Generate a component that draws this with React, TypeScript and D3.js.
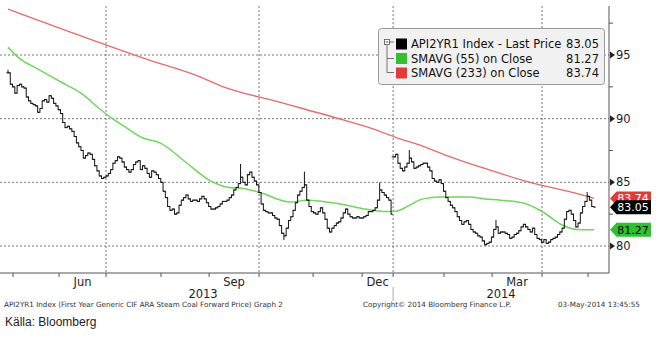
import React from 'react';
import * as d3 from 'd3';

// ---- data ----
const closes: number[] = [
  93.6, 92.7, 92.5, 92.0, 92.6, 92.7, 92.5, 92.4, 91.7, 91.4,
  91.2, 91.1, 91.0, 90.5, 90.8, 91.4, 91.5, 91.3, 91.8, 91.6,
  91.2, 91.0, 90.7, 90.4, 89.7, 89.3, 89.4, 89.2, 89.0, 88.6,
  88.1, 87.8, 87.5, 86.9, 87.1, 87.3, 87.2, 86.8, 86.3, 85.9,
  85.5, 85.3, 85.4, 85.5, 85.7, 86.0, 86.5, 86.7, 87.0, 86.9,
  86.6, 86.2, 86.0, 85.8, 86.0, 86.4, 86.6, 86.7, 86.0, 86.3,
  86.1, 85.7, 85.4, 85.9, 85.8, 85.6, 85.3, 85.0, 84.3, 83.8,
  83.1, 82.8, 82.9, 82.5, 82.6, 83.2, 83.6, 83.8, 84.0, 83.7,
  83.5, 83.6, 83.6, 83.5, 83.7, 83.9, 83.7, 83.4, 83.1, 82.9,
  82.9, 83.0, 83.1, 83.3, 83.5, 83.5, 83.6, 83.8, 84.0, 84.4,
  84.6, 84.9, 85.4, 85.0, 84.8, 85.6, 85.8, 85.4, 85.1, 84.8,
  84.2, 83.3, 82.8, 82.7, 82.6, 82.6, 82.4, 82.2, 82.1, 81.6,
  81.0, 80.8, 81.4, 82.0, 82.3, 82.8, 83.4, 84.0, 84.3, 84.6,
  84.8, 83.6, 83.1, 82.7, 82.6, 82.5, 82.7, 83.0, 82.6, 82.1,
  81.4, 81.1, 81.4, 81.6, 81.8, 81.9, 82.2, 82.6, 82.9, 82.5,
  82.3, 82.2, 82.2, 82.3, 82.2, 82.2, 82.3, 82.4, 82.7, 82.7,
  82.8, 83.0, 83.6, 84.4, 84.2, 84.0, 83.8, 83.6, 82.5, 87.0,
  87.2, 86.5, 86.1, 85.9, 86.2, 86.5, 86.9, 86.6, 86.1, 86.2,
  86.3, 86.4, 86.5, 86.5, 86.2, 85.9, 85.3, 85.1, 85.0, 85.2,
  84.9, 84.3, 83.8, 83.5, 83.2, 83.0, 82.7, 82.3, 82.0, 81.7,
  81.9, 82.0, 81.7, 81.3, 81.1, 81.0, 80.8, 80.7, 80.4, 80.1,
  80.2, 80.3, 80.7, 81.3, 81.5, 81.0, 81.1, 81.1, 81.0, 80.9,
  80.6, 80.7, 80.9, 81.0, 81.2, 81.5, 81.7, 81.5, 81.3, 81.1,
  81.4, 80.9, 80.6, 80.5, 80.3, 80.5, 80.2, 80.3, 80.5, 80.6,
  80.7, 80.9, 81.1, 81.4, 82.1, 82.7, 82.8, 82.5, 82.0, 81.5,
  81.8, 82.6, 83.1, 83.5, 83.9, 83.6, 83.1, 83.05,
];

// intraday extremes for a few bars: [trading-day index, price]
const barExtremes: [number, number][] = [
  [0, 93.8], [102, 86.4], [121, 80.5], [130, 85.8], [163, 84.95],
  [176, 87.5], [214, 82.0], [254, 84.2],
];
// bars that open a new session after a gap (open = close)
const sessionBreaks: number[] = [169];

const sma55: [number, number][] = [
  [0, 95.6], [6, 94.6], [11, 94.1], [23, 92.9], [32, 92.0], [40, 90.8],
  [45, 90.1], [51, 89.4], [59, 88.5], [66.7, 88.1], [78.5, 86.5], [88, 85.2],
  [97, 84.6], [104, 84.5], [110.5, 84.2], [124, 83.45], [131, 83.6],
  [146, 83.3], [156.6, 82.9], [166, 82.7], [170.6, 82.75], [176, 83.2],
  [182, 83.7], [189.5, 83.85], [202.6, 83.85], [209, 83.7], [216, 83.6],
  [226, 83.37], [234.6, 82.67], [243, 81.65], [249.6, 81.3], [257, 81.27],
];

const sma233: [number, number][] = [
  [0, 98.6], [62, 94.6], [84, 93.3], [93, 92.6], [119, 91.3], [147, 89.9],
  [160, 89.2], [170.6, 88.5], [181, 87.9], [192.5, 87.1], [198, 86.75],
  [209, 86.1], [229, 85.0], [243, 84.4], [255, 83.85], [257, 83.74],
];

const monthNames = ['May', 'Jun', 'Jul', 'Aug', 'Sep', 'Oct', 'Nov', 'Dec', 'Jan', 'Feb', 'Mar', 'Apr', 'May'];
const monthStarts = [2.2, 22.4, 43, 67.1, 88.2, 110.1, 133.8, 155.3, 168.9, 191.2, 212.3, 234.2, 254.4];
const labelledMonths = ['Jun', 'Sep', 'Dec', 'Mar'];
const gridMonthIdx = [2, 5, 8, 11];
const yearLabels = ['2013', '2014'];
const yearStartMonthIdx = [0, 8];

const yMajor = [80, 85, 90, 95];
const yMinor = [82.5, 87.5, 92.5, 97.5];

const legendLabels = ['API2YR1 Index - Last Price', 'SMAVG (55) on Close', 'SMAVG (233) on Close'];
const legendValues = ['83.05', '81.27', '83.74'];
const legendColors = ['#000000', '#2fc12f', '#e23a3a'];

const lastPrice = 83.05;
const lastSma55 = 81.27;
const lastSma233 = 83.74;

// ---- layout ----
const W = 656, H = 340;
const plotRight = 609, plotTop = 6, plotBottom = 273;
const AX_FONT = 'DejaVu Sans, Verdana, sans-serif';

export default function App() {
  const x = d3.scaleLinear().domain([0, closes.length - 1]).range([8, 594]);
  const y = d3.scaleLinear().domain([80, 95]).range([246, 55]);
  const xEnd = x.invert(plotRight);

  const barsPath = closes.map((c, i) => {
    const o = i === 0 || sessionBreaks.includes(i) ? c : closes[i - 1];
    const ext = barExtremes.filter(e => e[0] === i).map(e => e[1]);
    const hi = Math.max(o, c, ...ext);
    const lo = Math.min(o, c, ...ext);
    const px = x(i);
    return `M${px},${y(hi) - 0.5}V${y(lo) + 0.5}M${px - 1.6},${y(o)}H${px}M${px},${y(c)}H${px + 1.6}`;
  }).join('');

  const line = d3.line<[number, number]>()
    .x(d => x(d[0]))
    .y(d => y(d[1]))
    .curve(d3.curveMonotoneX);

  const tag = (v: number) => {
    const cy = y(v);
    return `M610,${cy}L616.5,${cy - 7}H651V${cy + 7}H616.5Z`;
  };

  const gridX = gridMonthIdx.map(m => x(monthStarts[m]));

  return (
    <div style={{ position: 'absolute', left: 0, top: 0 }}>
      <style>{'body{margin:0}'}</style>
      <svg width={W} height={H} style={{ display: 'block', background: '#fff' }}>
        <defs>
          <clipPath id="plotClip">
            <rect x={0} y={plotTop} width={plotRight} height={plotBottom - plotTop} />
          </clipPath>
        </defs>

        {/* horizontal gridlines */}
        {yMajor.map(v => (
          <line key={'hg' + v} x1={0} x2={plotRight} y1={y(v)} y2={y(v)}
            stroke="#777" strokeWidth={1} strokeDasharray="2,2" />
        ))}
        {/* vertical gridlines */}
        {gridX.map((gx, k) => (
          <line key={'vg' + k} x1={gx} x2={gx} y1={plotTop} y2={plotBottom}
            stroke="#777" strokeWidth={1} strokeDasharray="2,2" />
        ))}

        <g clipPath="url(#plotClip)">
          <path d={line(sma233) || ''} fill="none" stroke="#ea6a6a" strokeWidth={1.3} />
          <path d={line(sma55) || ''} fill="none" stroke="#6fd75c" strokeWidth={1.5} />
          <path d={barsPath} fill="none" stroke="#111" strokeWidth={1} />
        </g>

        {/* axes */}
        <line x1={plotRight} x2={plotRight} y1={plotTop} y2={plotBottom} stroke="#555" strokeWidth={1} />
        <line x1={0} x2={plotRight} y1={plotBottom} y2={plotBottom} stroke="#555" strokeWidth={1} />

        {/* y ticks */}
        {yMinor.map(v => (
          <line key={'ym' + v} x1={plotRight} x2={plotRight + 4} y1={y(v)} y2={y(v)} stroke="#555" />
        ))}
        {yMajor.map(v => (
          <g key={'yM' + v}>
            <path d={`M${plotRight + 1},${y(v) - 3.5}L${plotRight + 6},${y(v)}L${plotRight + 1},${y(v) + 3.5}Z`} fill="#222" />
            <text x={plotRight + 7} y={y(v)} dy="0.36em" fontFamily={AX_FONT} fontSize={11.5} fill="#1c1c2c">{v}</text>
          </g>
        ))}

        {/* value tags */}
        <path d={tag(lastSma233)} fill="#e23a3a" />
        <text x={633} y={y(lastSma233)} dy="0.36em" textAnchor="middle" fontFamily={AX_FONT} fontSize={11} fill="#fff">{lastSma233.toFixed(2)}</text>
        <path d={tag(lastPrice)} fill="#000" />
        <text x={633} y={y(lastPrice)} dy="0.36em" textAnchor="middle" fontFamily={AX_FONT} fontSize={11} fill="#fff">{lastPrice.toFixed(2)}</text>
        <path d={tag(lastSma55)} fill="#2fc12f" />
        <text x={633} y={y(lastSma55)} dy="0.36em" textAnchor="middle" fontFamily={AX_FONT} fontSize={11} fill="#000">{lastSma55.toFixed(2)}</text>

        {/* x ticks */}
        {monthStarts.map((m, k) => (
          <line key={'xt' + k} x1={x(m)} x2={x(m)} y1={plotBottom} y2={plotBottom + 4} stroke="#555" />
        ))}
        {monthNames.map((name, k) => {
          if (!labelledMonths.includes(name) || k + 1 >= monthStarts.length) return null;
          const cx = (x(monthStarts[k]) + x(monthStarts[k + 1])) / 2;
          return (
            <text key={'ml' + k} x={cx} y={282} dy="0.36em" textAnchor="middle" fontFamily={AX_FONT} fontSize={11.5} fill="#1c1c2c">{name}</text>
          );
        })}
        {yearLabels.map((yl, k) => {
          const a = monthStarts[yearStartMonthIdx[k]];
          const b = k + 1 < yearLabels.length ? monthStarts[yearStartMonthIdx[k + 1]] : xEnd;
          return (
            <text key={'yl' + yl} x={(x(a) + x(b)) / 2} y={294} dy="0.36em" textAnchor="middle" fontFamily={AX_FONT} fontSize={11.5} fill="#1c1c2c">{yl}</text>
          );
        })}
        <line x1={x(monthStarts[8])} x2={x(monthStarts[8])} y1={287} y2={301} stroke="#aaa" />

        {/* legend */}
        <rect x={378.5} y={28.5} width={226} height={56} rx={3} fill="#f1f1f1" stroke="#999" />
        <rect x={384.5} y={39.5} width={5} height={5} fill="#fff" stroke="#555" strokeWidth={0.8} />
        <line x1={385.5} x2={388.5} y1={42} y2={42} stroke="#333" strokeWidth={0.8} />
        <path d="M387,44.5V72.5H394M387,58.5H394M389.5,42H394" fill="none" stroke="#555" strokeWidth={0.8} />
        {legendLabels.map((lab, k) => {
          const cy = 44 + k * 14.5;
          return (
            <g key={'lg' + k}>
              <rect x={396} y={cy - 5.5} width={11} height={11} fill={legendColors[k]} />
              <text x={411} y={cy} dy="0.36em" fontFamily={AX_FONT} fontSize={11.5} fill="#111">{lab}</text>
              <text x={599} y={cy} dy="0.36em" textAnchor="end" fontFamily={AX_FONT} fontSize={11.5} fill="#111">{legendValues[k]}</text>
            </g>
          );
        })}

        {/* footer */}
        <text x={4} y={304} dy="0.36em" fontFamily={AX_FONT} fontSize={7.2} fill="#333">API2YR1 Index (First Year Generic CIF ARA Steam Coal Forward Price) Graph 2</text>
        <text x={363} y={304} dy="0.36em" fontFamily={AX_FONT} fontSize={7.2} fill="#333">Copyright© 2014 Bloomberg Finance L.P.</text>
        <text x={558} y={304} dy="0.36em" fontFamily={AX_FONT} fontSize={7.2} fill="#333">03-May-2014 13:45:55</text>
        <text x={5} y={322} dy="0.36em" fontFamily="Liberation Sans, Arial, sans-serif" fontSize={12} fill="#222">Källa: Bloomberg</text>
      </svg>
    </div>
  );
}
